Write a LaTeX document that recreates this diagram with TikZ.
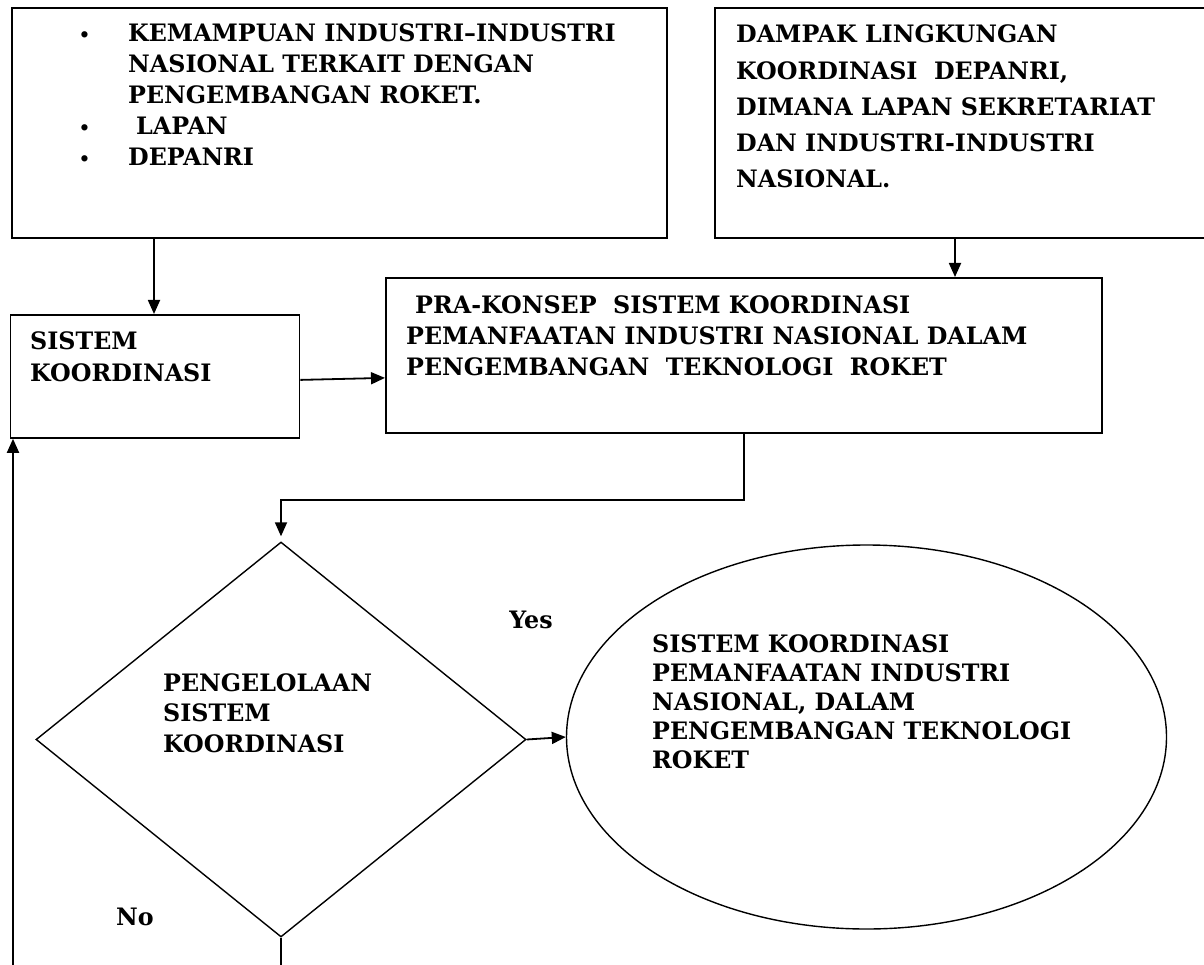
\documentclass[tikz,border=0pt]{standalone}
\usepackage{fontspec}
\setmainfont{DejaVu Serif}[FakeStretch=0.99]
\usetikzlibrary{arrows.meta,shapes.geometric,calc}
\newcommand\mybullet{\llap{\fontsize{18}{18}\selectfont•\hspace{38pt}}}
\begin{document}
\begin{tikzpicture}[x=1pt,y=-1pt,
  box/.style={draw,line width=1.8pt,inner sep=0pt,anchor=north west},
  txt/.style={inner sep=0pt,anchor=base west,align=left,font=\bfseries\fontsize{24}{#1}\selectfont},
  lbl/.style={inner sep=0pt,font=\bfseries\fontsize{24}{28}\selectfont},
  arr/.style={line width=1.8pt,-{Triangle[length=14pt,width=12pt]}},
  ln/.style={line width=1.8pt}]
\clip (0,0) rectangle (1204,965);
\fill[white] (0,0) rectangle (1204,965);
% boxes
\node[box,minimum width=655pt,minimum height=230pt] (b1) at (11,7) {};
\node[box,minimum width=520pt,minimum height=230pt] (b2) at (714,7) {};
\node[box,minimum width=289pt,minimum height=123pt] (b3) at (9.6,314) {};
\node[box,minimum width=716pt,minimum height=155pt] (b4) at (385,277) {};
\node[diamond,draw,line width=1.4pt,inner sep=0pt,minimum width=490pt,minimum height=395pt] (d) at (281,739.5) {};
\node[ellipse,draw,line width=1.4pt,inner sep=0pt,minimum width=600pt,minimum height=384pt] (e) at (866.5,737) {};
% texts (anchored at the baseline of their last line)
\node[txt=31pt] (t1) at (128,165.5) {\mybullet KEMAMPUAN INDUSTRI–INDUSTRI\\NASIONAL TERKAIT DENGAN\\PENGEMBANGAN ROKET.\\\mybullet\hspace*{8pt}LAPAN\\\mybullet DEPANRI};
\node[txt=36.25pt] (t2) at (736,188) {DAMPAK LINGKUNGAN\\KOORDINASI\ \ DEPANRI,\\DIMANA LAPAN SEKRETARIAT\\DAN INDUSTRI-INDUSTRI\\NASIONAL.};
\node[txt=32pt] (t3) at (30,381) {SISTEM\\KOORDINASI};
\node[txt=31pt] (t4) at (406,375) {\hspace*{9pt}PRA-KONSEP\ \ SISTEM KOORDINASI\\PEMANFAATAN INDUSTRI NASIONAL DALAM\\PENGEMBANGAN\ \ TEKNOLOGI\ \ ROKET};
\node[txt=30.5pt] (t5) at (163,752) {PENGELOLAAN\\SISTEM\\KOORDINASI};
\node[txt=29pt] (t6) at (652,768) {SISTEM KOORDINASI\\PEMANFAATAN INDUSTRI\\NASIONAL, DALAM\\PENGEMBANGAN TEKNOLOGI\\ROKET};
\node[lbl] (yes) at (531,620) {Yes};
\node[lbl] (no) at (135,917) {No};
% connectors
\coordinate (xa) at (154,0);
\coordinate (xb) at (955,0);
\coordinate (xc) at (744,500);
\coordinate (lb) at (13,975);
\coordinate (bot) at (0,975);
\draw[arr] (b1.south -| xa) -- (b3.north -| xa);
\draw[arr] (b2.south -| xb) -- (b4.north -| xb);
\draw[arr] ([yshift=-3.5pt]b3.east) -- ([yshift=-22.5pt]b4.west);
\draw[arr,shorten >=5pt] (b4.south -| xc) -- (xc) -| (d.north);
\draw[arr] (d.east) -- (e.west);
\draw[ln] (d.south) -- (d.south |- bot);
\draw[arr] (lb) -- (b3.south -| lb);
\end{tikzpicture}
\end{document}
